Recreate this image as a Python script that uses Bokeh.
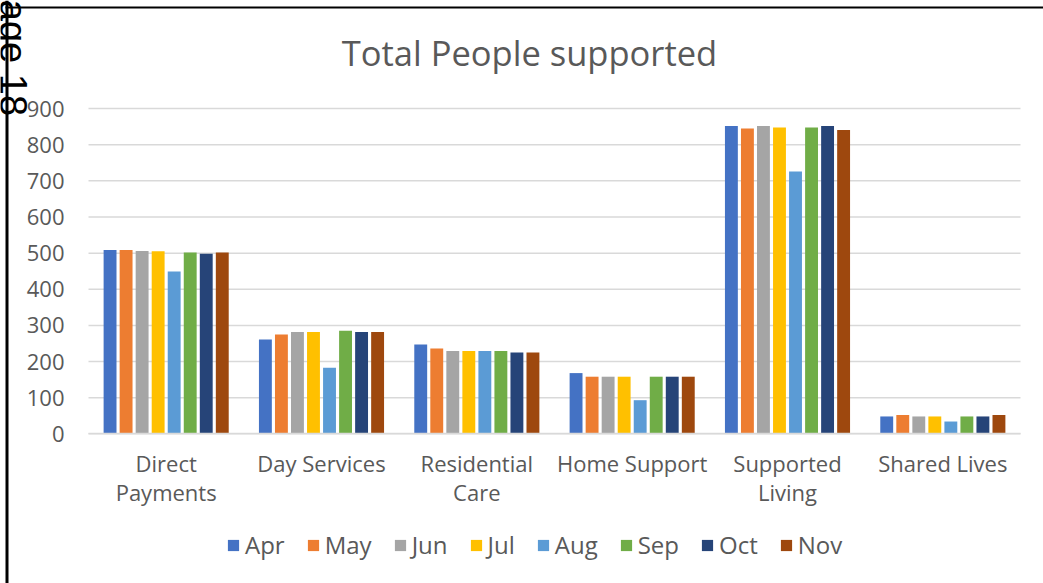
import math
from bokeh.plotting import figure
from bokeh.models import (ColumnDataSource, FixedTicker, Label, BoxAnnotation,
                          Range1d, LinearAxis)
from bokeh.transform import dodge
from bokeh.embed import file_html
from bokeh.resources import INLINE

# Service categories and monthly counts of people supported
categories = ["Direct\nPayments", "Day Services", "Residential\nCare",
              "Home Support", "Supported\nLiving", "Shared Lives"]
months = ["Apr", "May", "Jun", "Jul", "Aug", "Sep", "Oct", "Nov"]

apr = [509, 261, 247, 168, 852, 48]
may = [509, 275, 236, 158, 845, 52]
jun = [506, 282, 229, 158, 852, 48]
jul = [505, 282, 229, 158, 848, 48]
aug = [449, 183, 229, 93, 726, 34]
sep = [502, 285, 229, 158, 848, 48]
oct_ = [498, 282, 225, 158, 852, 48]
nov = [502, 282, 225, 158, 841, 52]

y_ticks = [0, 100, 200, 300, 400, 500, 600, 700, 800, 900]

series = [apr, may, jun, jul, aug, sep, oct_, nov]
colors = ["#4472C4", "#ED7D31", "#A5A5A5", "#FFC000",
          "#5B9BD5", "#70AD47", "#264478", "#9E480E"]

# category slots sit at 0.5, 1.5, ... on the x scale
centers = [i + 0.5 for i in range(len(categories))]
data = {"xc": centers}
for m, vals in zip(months, series):
    data[m] = vals
source = ColumnDataSource(data)

FONT = "Open Sans"
GREY = "#595959"
GRID = "#d9d9d9"

W, H = 1043, 583
# plot area: 88..1020 px across, value 0 at 433.3 px and 900 at 108.1 px
slot_px = (1020 - 88) / len(categories)
px_per_unit = (433.3 - 108.1) / 900
x_range = Range1d(-88 / slot_px, len(categories) + (W - 1020) / slot_px)
y_range = Range1d(-(H - 433.3) / px_per_unit, 433.3 / px_per_unit)

p = figure(x_range=x_range, y_range=y_range, width=W, height=H,
           output_backend="svg", toolbar_location=None,
           x_axis_type=None, y_axis_type=None,
           min_border=0, min_border_left=0, min_border_right=0,
           min_border_top=0, min_border_bottom=0)
p.outline_line_color = None
p.background_fill_color = "white"
p.border_fill_color = "white"
p.xgrid.visible = False
p.ygrid.visible = False

# horizontal gridlines across the plot area
p.segment(x0=0, x1=len(categories), y0=y_ticks, y1=y_ticks,
          line_color=GRID, line_width=1.5)

pitch = 0.1032
bar_w = 0.083
for i, (m, c) in enumerate(zip(months, colors)):
    p.vbar(x=dodge("xc", (i - 3.5) * pitch), top=m,
           width=bar_w, source=source, fill_color=c, line_color=None,
           legend_label=m)

# value axis pinned to the left edge of the plot area
yaxis = LinearAxis(fixed_location=0, bounds=(0, 900),
                   ticker=FixedTicker(ticks=y_ticks))
yaxis.axis_line_color = None
yaxis.major_tick_line_color = None
yaxis.minor_tick_line_color = None
yaxis.major_tick_out = 0
yaxis.major_tick_in = 0
yaxis.major_label_standoff = 24
yaxis.major_label_text_font = FONT
yaxis.major_label_text_font_size = "22px"
yaxis.major_label_text_color = GREY
p.add_layout(yaxis, "left")

# category axis along value 0
xaxis = LinearAxis(fixed_location=0, bounds=(0, len(categories)),
                   ticker=FixedTicker(ticks=centers))
xaxis.major_label_overrides = {c: lab for c, lab in zip(centers, categories)}
xaxis.axis_line_color = GRID
xaxis.axis_line_width = 1.5
xaxis.major_tick_line_color = None
xaxis.minor_tick_line_color = None
xaxis.major_tick_out = 0
xaxis.major_tick_in = 0
xaxis.major_label_standoff = 14
xaxis.major_label_text_font = FONT
xaxis.major_label_text_font_size = "22px"
xaxis.major_label_text_color = GREY
xaxis.major_label_text_line_height = 0.97
p.add_layout(xaxis, "below")

# legend under the categories
lg = p.legend[0]
lg.orientation = "horizontal"
lg.location = (226, 22)
lg.border_line_color = None
lg.background_fill_alpha = 0
lg.padding = 0
lg.margin = 0
lg.spacing = 21
lg.label_standoff = 5
lg.glyph_width = 14
lg.glyph_height = 14
lg.label_text_font = FONT
lg.label_text_font_size = "24px"
lg.label_text_color = GREY

# chart title
p.add_layout(Label(x=529, y=52, x_units="canvas", y_units="canvas",
                   text="Total People supported", text_align="center",
                   text_baseline="middle", text_font=FONT,
                   text_font_size="34.5px", text_color=GREY))

# page frame lines and page number
p.add_layout(BoxAnnotation(left=5, right=8, top=0, bottom=H,
                           left_units="canvas", right_units="canvas",
                           top_units="canvas", bottom_units="canvas",
                           fill_color="black", fill_alpha=1, line_color=None))
p.add_layout(BoxAnnotation(left=5, right=W, top=6, bottom=8,
                           left_units="canvas", right_units="canvas",
                           top_units="canvas", bottom_units="canvas",
                           fill_color="black", fill_alpha=1, line_color=None))
p.add_layout(Label(x=12, y=-26, x_units="canvas", y_units="canvas",
                   text="Page 18", angle=-math.pi / 2,
                   text_align="left", text_baseline="alphabetic",
                   text_font="Liberation Sans", text_font_size="38px",
                   text_color="black"))

open("out.html", "w").write(file_html(p, INLINE))
